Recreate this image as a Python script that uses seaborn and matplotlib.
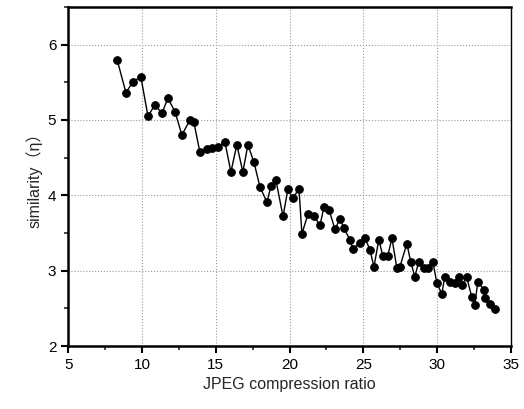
import numpy as np
import pandas as pd
import seaborn as sns
import matplotlib.pyplot as plt
from matplotlib.ticker import MultipleLocator

# values
ratio = [8.32, 8.92, 9.39, 9.93, 10.41, 10.88, 11.36, 11.76, 12.24, 12.71,
         13.25, 13.52, 13.93, 14.40, 14.74, 15.15, 15.62, 16.03, 16.43, 16.84,
         17.18, 17.59, 18.00, 18.47, 18.74, 19.08, 19.56, 19.89, 20.23, 20.64,
         20.84, 21.25, 21.66, 22.06, 22.33, 22.67, 23.08, 23.42, 23.69, 24.10,
         24.30, 24.77, 25.11, 25.45, 25.72, 26.05, 26.33, 26.66, 26.94, 27.27,
         27.48, 27.95, 28.22, 28.49, 28.76, 29.10, 29.37, 29.71, 29.98, 30.32,
         30.52, 30.86, 31.20, 31.47, 31.67, 32.01, 32.35, 32.55, 32.76, 33.16,
         33.23, 33.57, 33.91]
similarity = [5.80, 5.36, 5.51, 5.57, 5.05, 5.20, 5.09, 5.29, 5.11, 4.80,
              5.00, 4.97, 4.57, 4.61, 4.63, 4.64, 4.71, 4.31, 4.67, 4.31,
              4.67, 4.44, 4.11, 3.91, 4.12, 4.20, 3.72, 4.08, 3.96, 4.09,
              3.49, 3.75, 3.73, 3.60, 3.84, 3.81, 3.55, 3.69, 3.56, 3.41,
              3.29, 3.37, 3.43, 3.28, 3.05, 3.41, 3.19, 3.20, 3.43, 3.04,
              3.05, 3.36, 3.11, 2.92, 3.12, 3.04, 3.04, 3.12, 2.84, 2.69,
              2.92, 2.85, 2.84, 2.92, 2.81, 2.91, 2.65, 2.55, 2.85, 2.75,
              2.64, 2.56, 2.49]

df = pd.DataFrame({'ratio': ratio, 'similarity': similarity})

sns.set_theme(style='ticks')
plt.rcParams['font.family'] = ['Liberation Sans', 'Noto Sans CJK SC', 'DejaVu Sans']

fig = plt.figure(figsize=(5.24, 4.09), dpi=100)
ax = fig.add_axes([0.13, 0.154, 0.845, 0.829])

sns.lineplot(data=df, x='ratio', y='similarity', ax=ax, color='black',
             linewidth=1.0, marker='o', markersize=5.5, markeredgecolor='black',
             estimator=None, sort=False)

ax.set_xlim(5, 35)
ax.set_ylim(2, 6.5)
ax.xaxis.set_major_locator(MultipleLocator(5))
ax.xaxis.set_minor_locator(MultipleLocator(2.5))
ax.yaxis.set_major_locator(MultipleLocator(1))
ax.yaxis.set_minor_locator(MultipleLocator(0.5))
ax.grid(True, which='major', linestyle=':', color='#999999', linewidth=0.8)

ax.tick_params(axis='both', which='major', direction='out', length=5, width=1.5,
               labelsize=11, colors='black')
ax.tick_params(axis='both', which='minor', direction='out', length=3, width=1.2)
for side in ['left', 'bottom', 'top']:
    ax.spines[side].set_linewidth(1.8)
ax.spines['right'].set_linewidth(1.0)
for s in ax.spines.values():
    s.set_color('black')

ax.set_xlabel('JPEG compression ratio', fontsize=11.5)
ax.set_ylabel('similarity（η）', fontsize=11.5)

plt.savefig('out.png', dpi=100)
